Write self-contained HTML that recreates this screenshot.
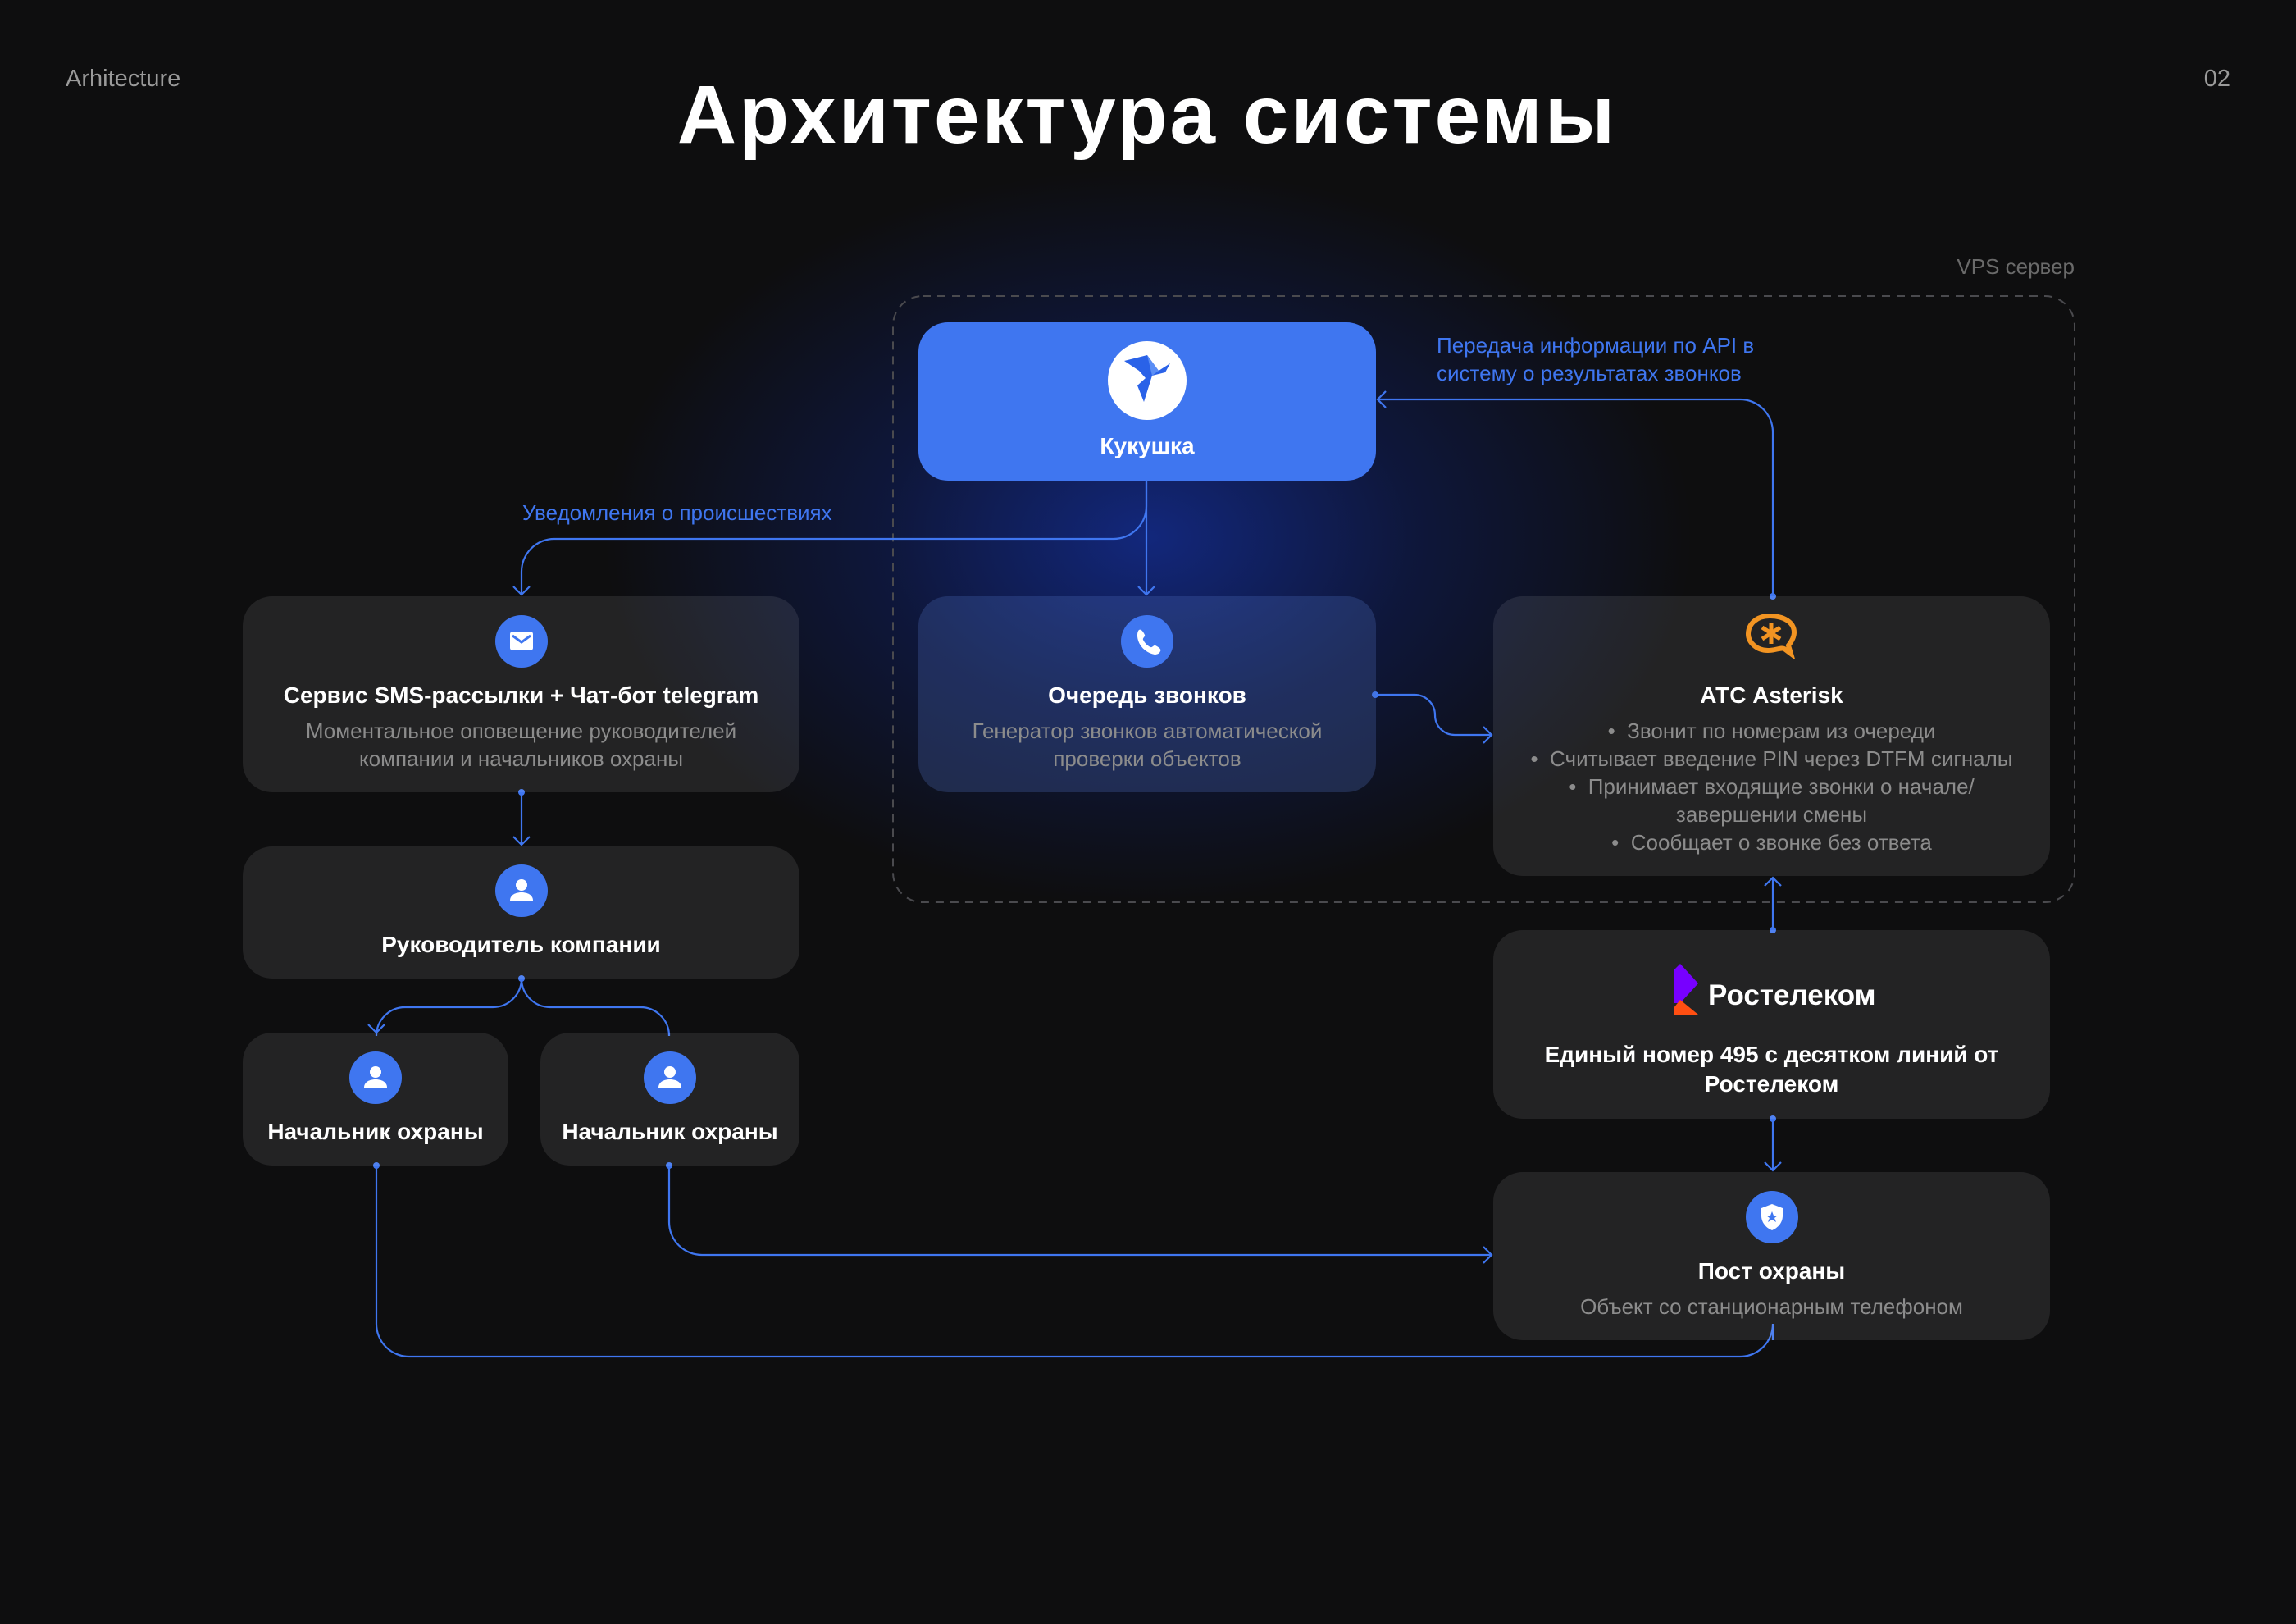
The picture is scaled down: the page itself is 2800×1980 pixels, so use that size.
<!DOCTYPE html>
<html><head><meta charset="utf-8"><style>
*{margin:0;padding:0;box-sizing:border-box}
body{width:2800px;height:1980px;background:#0e0e0f;position:relative;overflow:hidden;font-family:"Liberation Sans","Noto Sans CJK SC",sans-serif;color:#fff}
.glow{position:absolute;left:550px;top:80px;width:1700px;height:1150px;background:radial-gradient(ellipse 50% 50% at 50% 50%,rgba(20,50,170,0.7) 0%,rgba(15,35,120,0.42) 38%,rgba(14,14,15,0) 78%)}
.n{position:absolute;background:rgba(255,255,255,0.09);border-radius:36px;text-align:center}
.t{position:absolute;left:0;right:0;font-weight:bold;font-size:28px;line-height:36px}
.d{position:absolute;left:0;right:0;font-size:26px;line-height:34px;color:#8c8c8c}
.ic{position:absolute;width:64px;height:64px;border-radius:50%;background:#3f76f0;left:50%;margin-left:-32px}
.lbl{position:absolute;color:#3f76f0;font-size:26px;line-height:34px}
</style></head><body>
<div class="glow"></div>
<div style="position:absolute;left:80px;top:80px;font-size:29px;color:#9a9a9a">Arhitecture</div>
<div style="position:absolute;right:80px;top:80px;font-size:29px;color:#9a9a9a">02</div>
<div style="position:absolute;left:0;width:2798px;top:80px;text-align:center;font-size:100px;letter-spacing:3px;font-weight:bold;line-height:120px">Архитектура системы</div>
<div style="position:absolute;right:270px;top:310px;font-size:26px;color:#6a6a6a">VPS сервер</div>

<svg style="position:absolute;left:0;top:0" width="2800" height="1980">
<rect x="1089" y="361" width="1441" height="739" rx="36" fill="none" stroke="#4a4a4e" stroke-width="2" stroke-dasharray="10 8"/>
<g fill="none" stroke="#3f76f0" stroke-width="2.2">
<path d="M1398 586V725"/><path d="M1388 715l10 10l10-10"/>
<path d="M1398 586V617a40 40 0 0 1-40 40H676a40 40 0 0 0-40 40V725"/><path d="M626 715l10 10l10-10"/>
<path d="M2162 727V527a40 40 0 0 0-40-40H1680"/><path d="M1690 477l-10 10l10 10"/>
<path d="M1677 847H1725a25 25 0 0 1 25 25a24 24 0 0 0 24 24H1819"/><path d="M1809 886l10 10l-10 10"/>
<path d="M636 966V1030"/><path d="M626 1020l10 10l10-10"/>
<path d="M636 1193a35 35 0 0 1-35 35H494a35 35 0 0 0-35 35V1259"/><path d="M449 1249l10 10l10-10"/>
<path d="M636 1193a35 35 0 0 0 35 35H781a35 35 0 0 1 35 35V1259"/>
<path d="M816 1421V1490a40 40 0 0 0 40 40H1819"/><path d="M1809 1520l10 10l-10 10"/>
<path d="M459 1421V1614a40 40 0 0 0 40 40H2122a40 40 0 0 0 40-40V1634"/>
<path d="M2162 1134V1070"/><path d="M2152 1080l10-10l10 10"/>
<path d="M2162 1364V1427"/><path d="M2152 1417l10 10l10-10"/>
</g>
<g fill="#3f76f0"><circle cx="1677" cy="847" r="4"/><circle cx="636" cy="966" r="4"/><circle cx="636" cy="1193" r="4"/><circle cx="459" cy="1421" r="4"/><circle cx="816" cy="1421" r="4"/><circle cx="2162" cy="727" r="4"/><circle cx="2162" cy="1134" r="4"/><circle cx="2162" cy="1364" r="4"/></g>
</svg>

<div class="lbl" style="left:637px;top:608px">Уведомления о происшествиях</div>
<div class="lbl" style="left:1752px;top:404px">Передача информации по API в<br>систему о результатах звонков</div>

<div class="n" style="left:1120px;top:393px;width:558px;height:193px;background:#3f76f0">
 <div style="position:absolute;left:231px;top:23px;width:96px;height:96px;border-radius:50%;background:#fff">
  <svg width="96" height="96"><polygon points="20,24 48,17 62,36 76,27 70,38 54,42 44,74 36,54 46,45 38,36" fill="#2a62e8"/><polygon points="48,17 62,36 54,42" fill="#5b8ef5"/></svg>
 </div>
 <div class="t" style="top:133px;color:#fff">Кукушка</div>
</div>

<div class="n" style="left:296px;top:727px;width:679px;height:239px">
 <div class="ic" style="top:23px"><svg width="64" height="64"><rect x="18" y="20" width="28" height="23" rx="3" fill="#fff"/><path d="M21 25l11 8l11-8" fill="none" stroke="#3f76f0" stroke-width="3"/></svg></div>
 <div class="t" style="top:103px">Сервис SMS-рассылки + Чат-бот telegram</div>
 <div class="d" style="top:147px">Моментальное оповещение руководителей<br>компании и начальников охраны</div>
</div>

<div class="n" style="left:1120px;top:727px;width:558px;height:239px;background:rgba(80,110,190,0.28)">
 <div class="ic" style="top:23px"><svg width="64" height="64"><path d="M22 18c3-2 6 4 7 6c1 2-3 4-2 6c2 4 5 7 9 9c2 1 4-3 6-2c2 1 8 4 6 7c-1 3-4 4-7 4c-11-2-20-11-21-22c0-3 0-6 2-8z" fill="#fff"/></svg></div>
 <div class="t" style="top:103px">Очередь звонков</div>
 <div class="d" style="top:147px">Генератор звонков автоматической<br>проверки объектов</div>
</div>

<div class="n" style="left:1821px;top:727px;width:679px;height:341px">
 <svg style="position:absolute;left:307px;top:18px" width="66" height="58"><path d="M30 6C14 6 4 16 4 28c0 10 10 20 24 20c10 0 16-4 20-2l8 6l-3-10c4-5 7-10 7-16C60 14 48 6 30 6z" fill="none" stroke="#f29422" stroke-width="6"/><g stroke="#f29422" stroke-width="5"><path d="M32 14v26M21 20l22 14M43 20l-22 14"/></g></svg>
 <div class="t" style="top:103px">АТС Asterisk</div>
 <div class="d" style="top:147px">•&nbsp; Звонит по номерам из очереди<br>•&nbsp; Считывает введение PIN через DTFM сигналы<br>•&nbsp; Принимает входящие звонки о начале/<br>завершении смены<br>•&nbsp; Сообщает о звонке без ответа</div>
</div>

<div class="n" style="left:296px;top:1032px;width:679px;height:161px">
 <div class="ic" style="top:22px"><svg width="64" height="64"><circle cx="32" cy="25" r="7" fill="#fff"/><path d="M18 44c0-7 7-10 14-10s14 3 14 10z" fill="#fff"/></svg></div>
 <div class="t" style="top:102px">Руководитель компании</div>
</div>

<div class="n" style="left:296px;top:1259px;width:324px;height:162px">
 <div class="ic" style="top:23px"><svg width="64" height="64"><circle cx="32" cy="25" r="7" fill="#fff"/><path d="M18 44c0-7 7-10 14-10s14 3 14 10z" fill="#fff"/></svg></div>
 <div class="t" style="top:103px">Начальник охраны</div>
</div>
<div class="n" style="left:659px;top:1259px;width:316px;height:162px">
 <div class="ic" style="top:23px"><svg width="64" height="64"><circle cx="32" cy="25" r="7" fill="#fff"/><path d="M18 44c0-7 7-10 14-10s14 3 14 10z" fill="#fff"/></svg></div>
 <div class="t" style="top:103px">Начальник охраны</div>
</div>

<div class="n" style="left:1821px;top:1134px;width:679px;height:230px">
 <svg style="position:absolute;left:220px;top:41px" width="32" height="62"><polygon points="0,8 8,0 30,24 8,48 0,48" fill="#7700ff"/><polygon points="0,62 0,54 8,44 30,62" fill="#ff4f12"/></svg>
 <div style="position:absolute;left:262px;top:58px;font-size:35px;font-weight:bold;line-height:44px">Ростелеком</div>
 <div class="t" style="top:134px">Единый номер 495 с десятком линий от<br>Ростелеком</div>
</div>

<div class="n" style="left:1821px;top:1429px;width:679px;height:205px">
 <div class="ic" style="top:23px"><svg width="64" height="64"><path d="M32 16l13 5v9c0 9-6 15-13 18c-7-3-13-9-13-18v-9z" fill="#fff"/><path d="M32 25l2 5h5l-4 3l2 5l-5-3l-5 3l2-5l-4-3h5z" fill="#3f76f0"/></svg></div>
 <div class="t" style="top:103px">Пост охраны</div>
 <div class="d" style="top:147px">Объект со станционарным телефоном</div>
</div>
</body></html>
